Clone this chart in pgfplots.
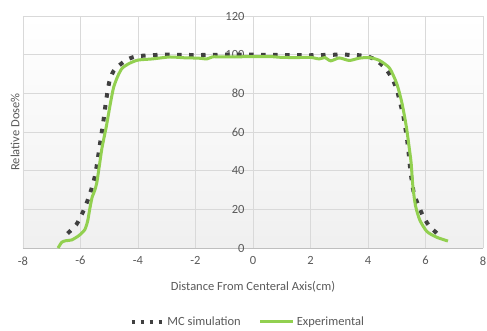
\documentclass[border=0pt]{standalone}
\usepackage{pgfplots}
\pgfplotsset{compat=1.18}
\usepackage{fontspec}
\setmainfont{Carlito}
\definecolor{txtgray}{HTML}{595959}
\definecolor{gridgray}{HTML}{D9D9D9}
\definecolor{mcgray}{HTML}{404040}
\definecolor{expgreen}{RGB}{146,208,80}
\begin{document}
\begin{tikzpicture}
\path[use as bounding box] (-23pt,-82pt) rectangle (464pt,248pt);
\begin{axis}[
  at={(0pt,0pt)}, anchor=south west,
  scale only axis, width=460pt, height=232pt,
  xmin=-8, xmax=8, ymin=0, ymax=120,
  xtick={-8,-6,...,8}, ytick={0,20,...,120},
  axis x line=bottom, axis y line=middle,
  hide obscured x ticks=false, hide obscured y ticks=false,
  x axis line style={-, draw=black!25, line width=0.8pt},
  y axis line style={-, draw=gridgray, line width=0.8pt},
  grid=major, grid style={draw=gridgray, line width=0.8pt},
  major tick length=0pt,
  axis background/.style={shade, top color=white, bottom color=black!6},
  /pgf/number format/assume math mode=true,
  font=\fontsize{12.5}{15}\selectfont,
  tick label style={text=txtgray},
  xticklabel style={yshift=-5pt},
  yticklabel style={xshift=-5pt},
  xlabel={Distance From Centeral Axis(cm)},
  ylabel={Relative Dose\%},
  every axis x label/.style={at={(axis description cs:0.5,0)}, anchor=center, yshift=-39pt, text=txtgray},
  every axis y label/.style={at={(axis description cs:-0.0174,0.5)}, rotate=90, anchor=center, text=txtgray},
  legend columns=2,
  legend style={at={(axis description cs:0.489,-0.318)}, anchor=center, draw=none, fill=none,
    text=txtgray, font=\fontsize{12.5}{15}\selectfont,
    /tikz/every even column/.append style={column sep=16pt}},
  legend cell align=left,
]
\addplot[mcgray, line width=4pt, dash pattern=on 4.5pt off 7.5pt, smooth, tension=0.4,
  legend image code/.code={\draw[mcgray, line width=3.5pt, dash pattern=on 3.5pt off 5.5pt] (0pt,0pt) -- (32pt,0pt);}]
coordinates {
(-6.45,7.5) (-6.15,12) (-5.95,17.5) (-5.78,23.5) (-5.63,30) (-5.5,37) (-5.42,44) (-5.35,51)
(-5.28,58) (-5.2,66) (-5.13,74) (-5.06,81) (-4.98,87) (-4.85,91.5) (-4.65,94.5) (-4.4,97.3)
(-4.1,99) (-3.7,99.6) (-3,100) (-2,99.8) (-1,100) (0,100) (1,99.8) (2,99.7) (3,100) (3.6,99.8)
(4.0,99) (4.3,97) (4.6,93) (4.83,88) (5.0,82) (5.11,75.5) (5.22,69) (5.3,62) (5.36,56)
(5.41,49.5) (5.46,42) (5.52,35) (5.6,28) (5.74,22.5) (5.9,17) (6.1,12) (6.4,7.5)
};
\addlegendentry{MC simulation}
\addplot[expgreen, line width=3pt, smooth, tension=0.4,
  legend image code/.code={\draw[expgreen, line width=3pt] (0pt,0pt) -- (33pt,0pt);}]
coordinates {
(-6.78,0) (-6.65,3) (-6.5,3.8) (-6.3,4.2) (-6.05,6.5) (-5.85,9.5) (-5.75,14) (-5.68,20)
(-5.6,26) (-5.5,30) (-5.43,34) (-5.35,42) (-5.25,52) (-5.1,63) (-4.97,74) (-4.85,83)
(-4.7,89) (-4.55,93) (-4.3,95.5) (-4.0,97.2) (-3.5,97.8) (-2.9,98.8) (-2.4,98.4) (-1.9,98.2)
(-1.6,97.8) (-1.4,98.9) (-1,98.8) (0,99) (0.6,99) (1,98.6) (1.5,98.5) (2,98.6) (2.3,97.8)
(2.5,98.5) (2.7,96.8) (3.0,98.3) (3.35,97) (3.7,98.2) (4.05,98.5) (4.4,97) (4.75,93)
(5.0,85) (5.18,75) (5.33,63) (5.45,50) (5.5,44) (5.56,32) (5.65,22) (5.8,14.5) (6.05,8.5)
(6.4,5.5) (6.78,3.6)
};
\addlegendentry{Experimental}
\end{axis}
\end{tikzpicture}
\end{document}
